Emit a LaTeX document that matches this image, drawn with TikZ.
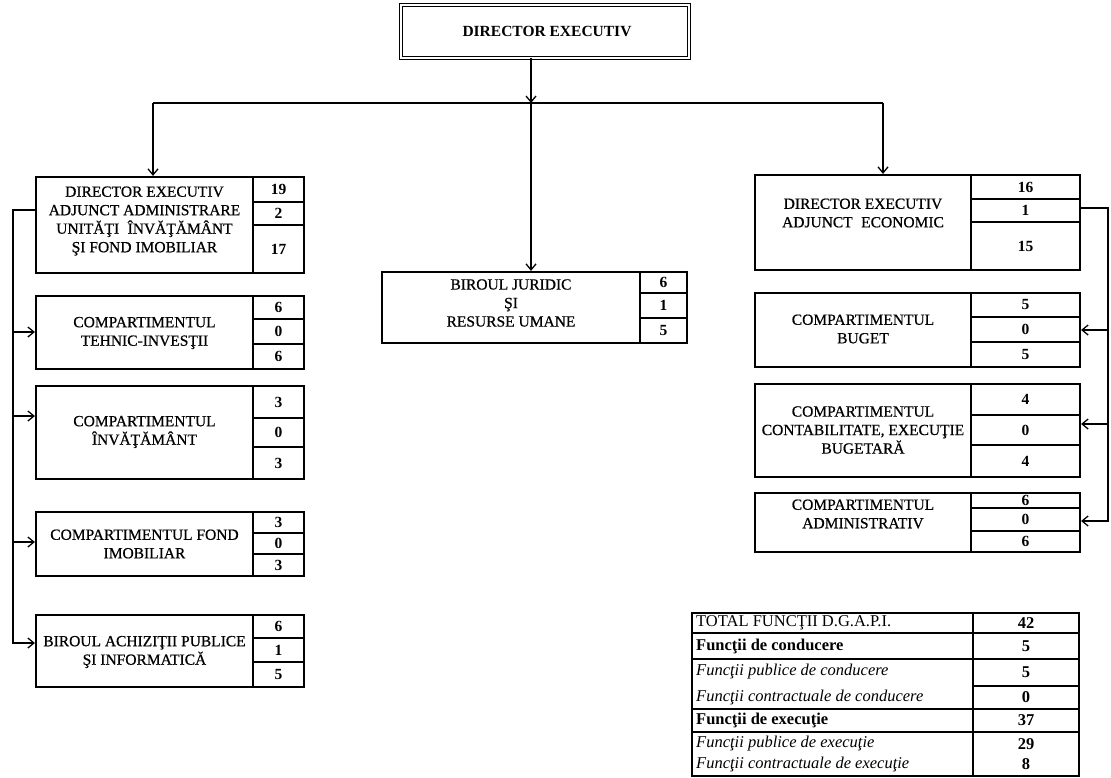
\documentclass[tikz,border=0pt]{standalone}
\usepackage{fontspec}
\setmainfont{Liberation Serif}
\usetikzlibrary{arrows.meta,fit}
\newcommand\obfont{\fontsize{15.5}{18.5}\selectfont\addfontfeature{FakeBold=0.6}}
\newcommand\onfont{\fontsize{15.5}{17}\selectfont\bfseries}
\newcommand\otfont{\fontsize{16.5}{19}\selectfont}
\tikzset{
  frame/.style={draw, line width=2.2pt, inner sep=0pt},
  cell/.style={draw, line width=1.3pt, inner sep=0pt},
  boxtext/.style={align=center, inner sep=0pt, font=\obfont},
  num/.style={inner sep=0pt, font=\onfont},
  conn/.style={line width=1.3pt},
  arr/.style={line width=1.3pt, -{Straight Barb[length=6pt,width=10pt]}},
  tline/.style={line width=1.2pt},
  tlab/.style={anchor=west, inner sep=0pt, font=\otfont},
  tnum/.style={inner sep=0pt, font=\otfont\bfseries},
}
% name, x1, xdiv, x2, y1, ya, yb, y2
\newcommand\orgbox[8]{%
  \node[cell, fit={(#3,#5)(#4,#6)}] (#1a) {};
  \node[cell, fit={(#3,#6)(#4,#7)}] (#1b) {};
  \node[cell, fit={(#3,#7)(#4,#8)}] (#1c) {};
  \node[frame, fit={(#2,#5)(#4,#8)}] (#1) {};
}
\newcommand\orgnums[4]{%
  \node[num] (#1na) at (#1a) {#2};
  \node[num] (#1nb) at (#1b) {#3};
  \node[num] (#1nc) at (#1c) {#4};
}
\begin{document}
\begin{tikzpicture}[x=1pt,y=-1pt]
\useasboundingbox (0,0) rectangle (1111,778);
\fill[white] (0,0) rectangle (1111,778);

% top box
\node[draw, double, double distance=2.2pt, line width=1pt, inner sep=0pt,
      fit={(401,5)(689,58)}] (D) {};
\node[inner sep=0pt, font=\fontsize{15.5}{19}\selectfont\bfseries] (Dt) at (547,31) {DIRECTOR EXECUTIV};

% left column
\orgbox{L0}{36}{253}{304}{177}{202}{225}{273}
\orgnums{L0}{19}{2}{17}
\node[boxtext] (L0t) at (144.5,221) {DIRECTOR EXECUTIV\\ADJUNCT ADMINISTRARE\\UNITĂŢI\hspace{0.3em} ÎNVĂŢĂMÂNT\\ŞI FOND IMOBILIAR};

\orgbox{L1}{36}{253}{304}{296}{319}{344}{369}
\orgnums{L1}{6}{0}{6}
\node[boxtext] (L1t) at (144.5,333) {COMPARTIMENTUL\\TEHNIC-INVESŢII};

\orgbox{L2}{36}{253}{304}{386}{418}{447}{479}
\orgnums{L2}{3}{0}{3}
\node[boxtext] (L2t) at (144.5,432) {COMPARTIMENTUL\\ÎNVĂŢĂMÂNT};

\orgbox{L3}{36}{253}{304}{512}{533}{554}{576}
\orgnums{L3}{3}{0}{3}
\node[boxtext] (L3t) at (144.5,544) {COMPARTIMENTUL FOND\\IMOBILIAR};

\orgbox{L4}{36}{253}{304}{615}{638}{662}{687}
\orgnums{L4}{6}{1}{5}
\node[boxtext] (L4t) at (144.5,652) {BIROUL ACHIZIŢII PUBLICE\\ŞI INFORMATICĂ};

% middle
\orgbox{M}{382}{640}{687}{272}{293}{318}{343}
\orgnums{M}{6}{1}{5}
\node[boxtext] (Mt) at (511,303) {BIROUL JURIDIC\\ŞI\\RESURSE UMANE};

% right column
\orgbox{R0}{755}{971}{1080}{175}{199}{222}{270}
\orgnums{R0}{16}{1}{15}
\node[boxtext] (R0t) at (863,213) {DIRECTOR EXECUTIV\\ADJUNCT\hspace{0.3em} ECONOMIC};

\orgbox{R1}{755}{971}{1080}{293}{317}{342}{367}
\orgnums{R1}{5}{0}{5}
\node[boxtext] (R1t) at (863,329) {COMPARTIMENTUL\\BUGET};

\orgbox{R2}{755}{971}{1080}{384}{415}{445}{477}
\orgnums{R2}{4}{0}{4}
\node[boxtext] (R2t) at (863,430) {COMPARTIMENTUL\\CONTABILITATE, EXECUŢIE\\BUGETARĂ};

\orgbox{R3}{755}{971}{1080}{493}{508}{531}{552}
\orgnums{R3}{6}{0}{6}
\node[boxtext] (R3t) at (863,514) {COMPARTIMENTUL\\ADMINISTRATIV};

% connectors from top
\coordinate (hc) at (531,103);
\coordinate (hl) at (153,103);
\coordinate (hr) at (883,103);
\draw[arr] (hc |- D.south) -- (hc);
\draw[conn] (hl) -- (hr);
\draw[arr] (hl) -- (hl |- L0.north);
\draw[arr] (hr) -- (hr |- R0.north);
\draw[arr] (hc) -- (hc |- M.north);

% left trunk
\coordinate (lt) at (13,210);
\coordinate (lb) at (13,643);
\coordinate (la1) at (13,332);
\coordinate (la2) at (13,416);
\coordinate (la3) at (13,542);
\draw[arr] (lt -| L0.west) -- (lt) -- (lb) -- (lb -| L4.west);
\draw[arr] (la1) -- (la1 -| L1.west);
\draw[arr] (la2) -- (la2 -| L2.west);
\draw[arr] (la3) -- (la3 -| L3.west);

% right trunk
\coordinate (rt) at (1108,208);
\coordinate (rb) at (1108,521);
\coordinate (ra1) at (1108,330);
\coordinate (ra2) at (1108,424);
\draw[arr] (rt -| R0.east) -- (rt) -- (rb) -- (rb -| R3.east);
\draw[arr] (ra1) -- (ra1 -| R1.east);
\draw[arr] (ra2) -- (ra2 -| R2.east);

% table
\node[draw, line width=1.4pt, inner sep=0pt, fit={(692,613)(1079,776)}] (T) {};
\draw[tline] (973,613) -- (973,776);
\draw[tline] (692,633) -- (1079,633);
\draw[tline] (692,659) -- (1079,659);
\draw[tline] (973,686) -- (1079,686);
\draw[tline] (692,709) -- (1079,709);
\draw[tline] (692,732) -- (1079,732);
\node[tlab] (t1) at (696,623) {TOTAL FUNCŢII D.G.A.P.I.};
\node[tlab] (t2) at (696,646) {\bfseries Funcţii de conducere};
\node[tlab] (t3) at (696,672) {\itshape Funcţii publice de conducere};
\node[tlab] (t4) at (696,697) {\itshape Funcţii contractuale de conducere};
\node[tlab] (t5) at (696,720) {\bfseries Funcţii de execuţie};
\node[tlab] (t6) at (696,744) {\itshape Funcţii publice de execuţie};
\node[tlab] (t7) at (696,764) {\itshape Funcţii contractuale de execuţie};
\node[tnum] (v1) at (1026,623) {42};
\node[tnum] (v2) at (1026,646) {5};
\node[tnum] (v3) at (1026,672) {5};
\node[tnum] (v4) at (1026,697) {0};
\node[tnum] (v5) at (1026,720) {37};
\node[tnum] (v6) at (1026,744) {29};
\node[tnum] (v7) at (1026,764) {8};
\end{tikzpicture}
\end{document}
